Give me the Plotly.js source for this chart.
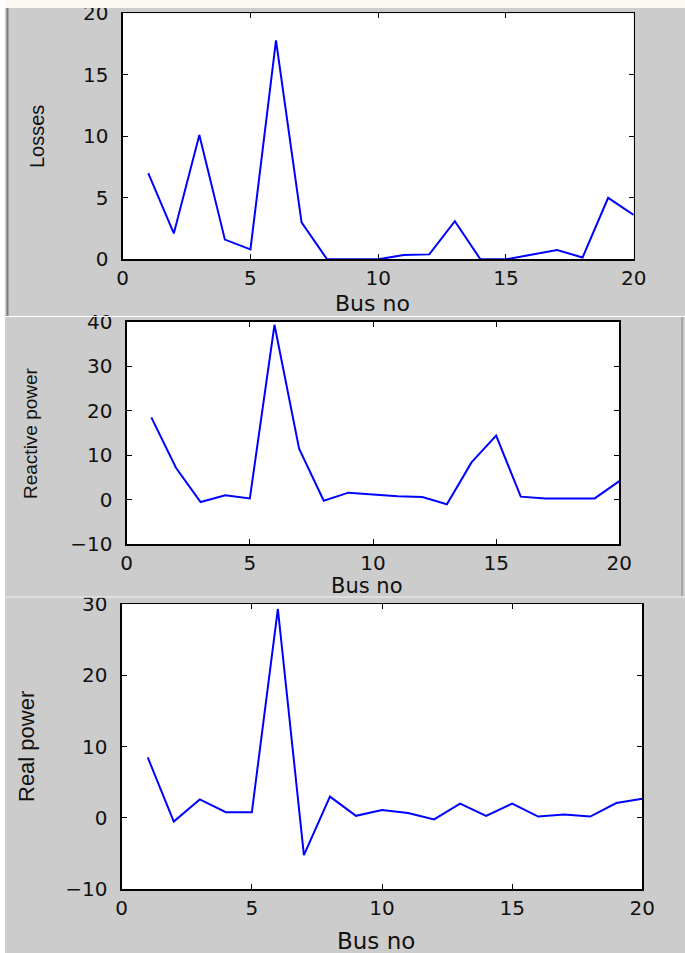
<!DOCTYPE html>
<html>
<head>
<meta charset="utf-8">
<script src="https://cdn.plot.ly/plotly-3.0.1.min.js"></script>
<style>html,body{margin:0;padding:0;background:#fff;}#chart{width:685px;height:953px;}</style>
</head>
<body>
<div id="chart"></div>
<script>
// ---- data ----
const busNo = [1,2,3,4,5,6,7,8,9,10,11,12,13,14,15,16,17,18,19,20];
const losses = [7.0, 2.1, 10.1, 1.6, 0.8, 17.8, 3.0, 0, 0, 0, 0.35, 0.4, 3.1, 0, 0, 0.35, 0.75, 0.15, 5.0, 3.6];
const reactivePower = [18.5, 7.2, -0.5, 1.0, 0.3, 39.3, 11.5, -0.2, 1.6, 1.2, 0.8, 0.6, -1.0, 8.4, 14.4, 0.7, 0.3, 0.3, 0.3, 4.2];
const realPower = [8.5, -0.5, 2.6, 0.8, 0.8, 29.3, -5.2, 3.0, 0.3, 1.1, 0.7, -0.2, 2.0, 0.3, 2.0, 0.2, 0.5, 0.2, 2.1, 2.7];
const xTitle = "Bus no";
const yTitles = ["Losses", "Reactive power", "Real power"];
const xTicks = [0, 5, 10, 15, 20];

// ---- layout helpers ----
const W = 685, H = 953;
const px = v => v / W;
const py = v => 1 - v / H;

const FONT = "Liberation Sans, Arial, sans-serif";
const WIDE = "DejaVu Sans, Verdana, sans-serif";
const tickFont = {family: WIDE, size: 20, color: "#111"};

function xAxis(l, r, anchor) {
  return {
    domain: [px(l), px(r)], range: [0, 20], tickvals: xTicks, anchor: anchor,
    showgrid: false, zeroline: false, showline: true, mirror: "ticks",
    linecolor: "#000", linewidth: 1.3, ticks: "inside", ticklen: 5, tickcolor: "#000",
    tickfont: tickFont, ticklabelstandoff: 0, fixedrange: true
  };
}
function yAxis(t, b, range, dtick, anchor) {
  return {
    domain: [py(b), py(t)], range: range, dtick: dtick, tick0: 0, anchor: anchor,
    showgrid: false, zeroline: false, showline: true, mirror: "ticks",
    linecolor: "#000", linewidth: 1.3, ticks: "inside", ticklen: 5, tickcolor: "#000",
    tickfont: tickFont, ticklabelstandoff: 9, fixedrange: true
  };
}

const line = {color: "#0000ff", width: 2};
const traces = [
  {x: busNo, y: losses, type: "scatter", mode: "lines", line: line, xaxis: "x", yaxis: "y"},
  {x: busNo, y: reactivePower, type: "scatter", mode: "lines", line: line, xaxis: "x2", yaxis: "y2"},
  {x: busNo, y: realPower, type: "scatter", mode: "lines", line: line, xaxis: "x3", yaxis: "y3"}
];

function ann(text, cx, cy, size, angle, fam) {
  return {text: text, xref: "paper", yref: "paper", x: px(cx), y: py(cy),
    xanchor: "center", yanchor: "middle", showarrow: false, textangle: angle || 0,
    font: {family: fam || FONT, size: size, color: "#111"}};
}

const layout = {
  width: W, height: H, margin: {l: 0, r: 0, t: 0, b: 0},
  paper_bgcolor: "#cccccc", plot_bgcolor: "#ffffff", showlegend: false,
  xaxis: xAxis(122.7, 633.7, "y"), yaxis: yAxis(13.3, 259.3, [0, 20], 5, "x"),
  xaxis2: xAxis(126.7, 619.3, "y2"), yaxis2: yAxis(321.7, 544.3, [-10, 40], 10, "x2"),
  xaxis3: xAxis(121.7, 642.3, "y3"), yaxis3: yAxis(604, 889.3, [-10, 30], 10, "x3"),
  annotations: [
    ann(xTitle, 372, 303, 22, 0, WIDE), ann(yTitles[0], 37, 137, 20, -90),
    ann(xTitle, 367, 586, 21, 0, WIDE), ann(yTitles[1], 30, 433, 19, -90),
    ann(xTitle, 376, 941, 23, 0, WIDE), ann(yTitles[2], 26, 747, 22, -90)
  ],
  shapes: [
    {type: "rect", xref: "paper", yref: "paper",
     x0: 0, x1: 1, y0: py(8), y1: 1, fillcolor: "#fbf8f4", line: {width: 0}},
    {type: "rect", xref: "paper", yref: "paper",
     x0: 0, x1: px(5), y0: 0, y1: 1, fillcolor: "#ffffff", line: {width: 0}},
    {type: "line", xref: "paper", yref: "paper",
     x0: px(7.5), x1: px(7.5), y0: py(8), y1: py(316), line: {color: "#7a7a7a", width: 2}},
    {type: "line", xref: "paper", yref: "paper",
     x0: px(5), x1: px(685), y0: py(316.5), y1: py(316.5), line: {color: "#ffffff", width: 1}},
    {type: "line", xref: "paper", yref: "paper",
     x0: px(682), x1: px(682), y0: py(317), y1: py(596), line: {color: "#9a9a9a", width: 1.5}},
    {type: "line", xref: "paper", yref: "paper",
     x0: px(5), x1: px(685), y0: py(597), y1: py(597), line: {color: "#e6e6e6", width: 1.5}}
  ]
};

Plotly.newPlot("chart", traces, layout, {displayModeBar: false, staticPlot: true});
</script>
</body>
</html>
